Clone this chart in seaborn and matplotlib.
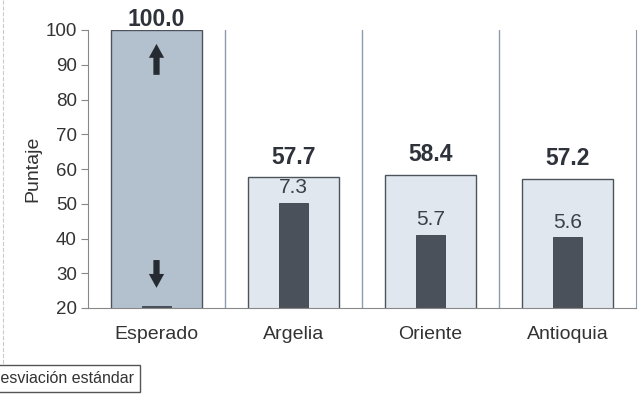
import matplotlib
matplotlib.use("Agg")
import matplotlib.pyplot as plt
import seaborn as sns
import pandas as pd
from matplotlib.lines import Line2D

# datos
categorias = ["Esperado", "Argelia", "Oriente", "Antioquia"]
promedios = [100.0, 57.7, 58.4, 57.2]
desviacion_barra = [20.6, 50.2, 41.0, 40.4]   # altura de la barra oscura
desviacion_texto = ["", "7.3", "5.7", "5.6"]

sns.set_style("white")
plt.rcParams["font.family"] = ["Liberation Sans", "DejaVu Sans"]

df = pd.DataFrame({"cat": categorias, "media": promedios, "desv": desviacion_barra})

fig = plt.figure(figsize=(6.44, 4.04), dpi=100)
ax = fig.add_axes([88 / 644, (404 - 308) / 404, (636 - 88) / 644, (308 - 30) / 404])

colores = {"Esperado": "#afc1d3", "Argelia": "#dfe7f0", "Oriente": "#dfe7f0", "Antioquia": "#dfe7f0"}
sns.barplot(data=df, x="cat", y="media", hue="cat", palette=colores, legend=False,
            width=0.66, edgecolor="#4d535c", linewidth=1.0, ax=ax)
sns.barplot(data=df, x="cat", y="desv", color="#48505d", width=0.21,
            edgecolor="#3a414c", linewidth=0.6, ax=ax)

ax.set_xlim(-0.5, 3.5)
ax.set_ylim(20, 100)
ax.set_yticks(range(20, 101, 10))
ax.set_xlabel("")
ax.set_ylabel("Puntaje", fontsize=14, color="#333333", labelpad=3)

# separadores entre categorías
for x in [0.5, 1.5, 2.5]:
    ax.axvline(x, color="#8a9cae", lw=1.0, zorder=0)
ax.set_xticks([0.5, 1.5, 2.5, 3.5], minor=True)
ax.tick_params(axis="x", which="minor", length=6, color="#8a9cae", width=1.0)
ax.tick_params(axis="x", which="major", length=0, labelsize=14, labelcolor="#333333", pad=13)
ax.tick_params(axis="y", length=5, color="#888888", labelsize=13.5, labelcolor="#333333", left=True, pad=3)

ax.spines["top"].set_visible(False)
ax.spines["right"].set_color("#8a9cae")
ax.spines["left"].set_color("#888888")
ax.spines["bottom"].set_color("#888888")

# etiquetas
for i, (m, d, t) in enumerate(zip(promedios, desviacion_barra, desviacion_texto)):
    off = -1 if m >= 100 else 6
    ax.annotate(f"{m:.1f}", (i, m), xytext=(0, off), textcoords="offset points",
                ha="center", va="bottom", fontsize=16.5, fontweight="bold", color="#2e323a",
                annotation_clip=False)
    if t:
        ax.annotate(t, (i, d), xytext=(0, 4), textcoords="offset points",
                    ha="center", va="bottom", fontsize=15, color="#3a3f48")

# flechas en la barra esperada
flecha = dict(arrowstyle="simple,head_width=1.1,head_length=1.0,tail_width=0.45",
              color="#262a31", lw=0)
ax.annotate("", xy=(0, 96.8), xytext=(0, 86.3), arrowprops=flecha)
ax.annotate("", xy=(0, 25.0), xytext=(0, 34.6), arrowprops=flecha)

# leyenda recortada
fig.text(-0.017, 0.063, "Desviación estándar", fontsize=11.5, color="#333333",
         ha="left", va="center",
         bbox=dict(boxstyle="square,pad=0.35", fc="white", ec="#555555", lw=1.0))
fig.add_artist(Line2D([3 / 644, 3 / 644], [1, 0.1], color="#c8ccd2", lw=0.8, ls="--"))

fig.savefig("out.png", dpi=100)
